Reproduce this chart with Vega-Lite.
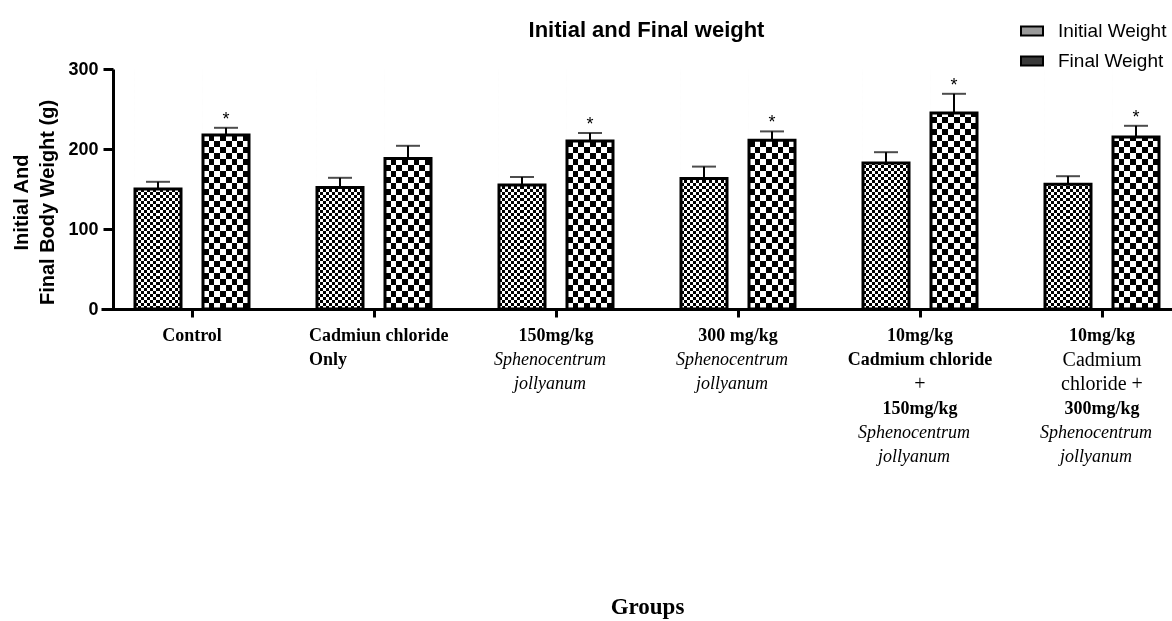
{
  "$schema": "https://vega.github.io/schema/vega-lite/v6.json",
  "width": 1059,
  "height": 240,
  "autosize": {"type": "none"},
  "padding": {"left": 113, "top": 69, "right": 0, "bottom": 312},
  "background": "white",
  "config": {"view": {"stroke": null}},
  "title": {
    "text": "Initial and Final weight",
    "font": "Liberation Sans",
    "fontSize": 22,
    "fontWeight": "bold",
    "color": "black",
    "anchor": "middle",
    "frame": "group",
    "baseline": "alphabetic",
    "dx": 4,
    "dy": 40,
    "offset": 0
  },
  "datasets": {
    "weights": [
      {"group": "Control", "series": "Initial Weight", "weight": 150, "upper": 159, "sig": ""},
      {"group": "Control", "series": "Final Weight", "weight": 217.5, "upper": 226.5, "sig": "*"},
      {"group": "Cadmium chloride only", "series": "Initial Weight", "weight": 152, "upper": 164, "sig": ""},
      {"group": "Cadmium chloride only", "series": "Final Weight", "weight": 188, "upper": 204, "sig": ""},
      {"group": "150mg/kg S. jollyanum", "series": "Initial Weight", "weight": 155, "upper": 165, "sig": ""},
      {"group": "150mg/kg S. jollyanum", "series": "Final Weight", "weight": 210, "upper": 220, "sig": "*"},
      {"group": "300mg/kg S. jollyanum", "series": "Initial Weight", "weight": 163, "upper": 178, "sig": ""},
      {"group": "300mg/kg S. jollyanum", "series": "Final Weight", "weight": 211, "upper": 222, "sig": "*"},
      {"group": "Cadmium chloride + 150mg/kg S. jollyanum", "series": "Initial Weight", "weight": 182.5, "upper": 196, "sig": ""},
      {"group": "Cadmium chloride + 150mg/kg S. jollyanum", "series": "Final Weight", "weight": 245, "upper": 269, "sig": "*"},
      {"group": "Cadmium chloride + 300mg/kg S. jollyanum", "series": "Initial Weight", "weight": 156, "upper": 166, "sig": ""},
      {"group": "Cadmium chloride + 300mg/kg S. jollyanum", "series": "Final Weight", "weight": 215, "upper": 229, "sig": "*"}
    ],
    "labels": [
      {"group": "Control", "line": 1, "text": "Control", "format": "bold"},
      {"group": "Cadmium chloride only", "line": 1, "text": "Cadmiun chloride", "format": "bold-left"},
      {"group": "Cadmium chloride only", "line": 2, "text": "Only", "format": "bold-left"},
      {"group": "150mg/kg S. jollyanum", "line": 1, "text": "150mg/kg", "format": "bold"},
      {"group": "150mg/kg S. jollyanum", "line": 2, "text": "Sphenocentrum", "format": "italic"},
      {"group": "150mg/kg S. jollyanum", "line": 3, "text": "jollyanum", "format": "italic"},
      {"group": "300mg/kg S. jollyanum", "line": 1, "text": "300 mg/kg", "format": "bold"},
      {"group": "300mg/kg S. jollyanum", "line": 2, "text": "Sphenocentrum", "format": "italic"},
      {"group": "300mg/kg S. jollyanum", "line": 3, "text": "jollyanum", "format": "italic"},
      {"group": "Cadmium chloride + 150mg/kg S. jollyanum", "line": 1, "text": "10mg/kg", "format": "bold"},
      {"group": "Cadmium chloride + 150mg/kg S. jollyanum", "line": 2, "text": "Cadmium chloride", "format": "bold"},
      {"group": "Cadmium chloride + 150mg/kg S. jollyanum", "line": 3, "text": "+", "format": "regular"},
      {"group": "Cadmium chloride + 150mg/kg S. jollyanum", "line": 4, "text": "150mg/kg", "format": "bold"},
      {"group": "Cadmium chloride + 150mg/kg S. jollyanum", "line": 5, "text": "Sphenocentrum", "format": "italic"},
      {"group": "Cadmium chloride + 150mg/kg S. jollyanum", "line": 6, "text": "jollyanum", "format": "italic"},
      {"group": "Cadmium chloride + 300mg/kg S. jollyanum", "line": 1, "text": "10mg/kg", "format": "bold"},
      {"group": "Cadmium chloride + 300mg/kg S. jollyanum", "line": 2, "text": "Cadmium", "format": "regular"},
      {"group": "Cadmium chloride + 300mg/kg S. jollyanum", "line": 3, "text": "chloride +", "format": "regular"},
      {"group": "Cadmium chloride + 300mg/kg S. jollyanum", "line": 4, "text": "300mg/kg", "format": "bold"},
      {"group": "Cadmium chloride + 300mg/kg S. jollyanum", "line": 5, "text": "Sphenocentrum", "format": "italic"},
      {"group": "Cadmium chloride + 300mg/kg S. jollyanum", "line": 6, "text": "jollyanum", "format": "italic"}
    ]
  },
  "encoding": {
    "x": {
      "field": "group",
      "type": "nominal",
      "title": "Groups",
      "scale": {
        "domain": ["Control", "Cadmium chloride only", "150mg/kg S. jollyanum", "300mg/kg S. jollyanum", "Cadmium chloride + 150mg/kg S. jollyanum", "Cadmium chloride + 300mg/kg S. jollyanum"],
        "range": [-12, 1080],
        "paddingInner": 0,
        "paddingOuter": 0
      },
      "axis": {
        "labels": false,
        "ticks": true,
        "tickSize": 8,
        "tickWidth": 3,
        "tickColor": "black",
        "domain": true,
        "domainWidth": 3,
        "domainColor": "black",
        "grid": false,
        "zindex": 1,
        "titleFont": "Liberation Serif",
        "titleFontSize": 23,
        "titleFontWeight": "bold",
        "titleColor": "black",
        "titleBaseline": "alphabetic",
        "titleY": 304
      }
    }
  },
  "layer": [
    {
      "data": {"name": "weights"},
      "encoding": {
        "xOffset": {
          "field": "series",
          "type": "nominal",
          "scale": {"domain": ["Initial Weight", "Final Weight"], "paddingInner": 0.3235, "paddingOuter": 0.5}
        }
      },
      "layer": [
        {
          "transform": [{"filter": "datum.series === 'Initial Weight'"}],
          "mark": {
            "type": "bar",
            "fill": {"gradient": "linear", "x1": 0, "y1": 0, "x2": 1, "y2": 0, "stops": [
              {"offset": 0, "color": "#000"},
              {"offset": 0.0667, "color": "#000"}, {"offset": 0.0667, "color": "#fff"},
              {"offset": 0.1333, "color": "#fff"}, {"offset": 0.1333, "color": "#000"},
              {"offset": 0.2, "color": "#000"}, {"offset": 0.2, "color": "#fff"},
              {"offset": 0.2667, "color": "#fff"}, {"offset": 0.2667, "color": "#000"},
              {"offset": 0.3333, "color": "#000"}, {"offset": 0.3333, "color": "#fff"},
              {"offset": 0.4, "color": "#fff"}, {"offset": 0.4, "color": "#000"},
              {"offset": 0.4667, "color": "#000"}, {"offset": 0.4667, "color": "#fff"},
              {"offset": 0.5333, "color": "#fff"}, {"offset": 0.5333, "color": "#000"},
              {"offset": 0.6, "color": "#000"}, {"offset": 0.6, "color": "#fff"},
              {"offset": 0.6667, "color": "#fff"}, {"offset": 0.6667, "color": "#000"},
              {"offset": 0.7333, "color": "#000"}, {"offset": 0.7333, "color": "#fff"},
              {"offset": 0.8, "color": "#fff"}, {"offset": 0.8, "color": "#000"},
              {"offset": 0.8667, "color": "#000"}, {"offset": 0.8667, "color": "#fff"},
              {"offset": 0.9333, "color": "#fff"}, {"offset": 0.9333, "color": "#000"},
              {"offset": 1, "color": "#000"}
            ]}
          },
          "encoding": {
            "y": {"datum": 0, "type": "quantitative"},
            "y2": {"datum": 300}
          }
        },
        {
          "transform": [{"filter": "datum.series === 'Final Weight'"}],
          "mark": {
            "type": "bar",
            "fill": {"gradient": "linear", "x1": 0, "y1": 0, "x2": 1, "y2": 0, "stops": [
              {"offset": 0, "color": "#000"},
              {"offset": 0.125, "color": "#000"}, {"offset": 0.125, "color": "#fff"},
              {"offset": 0.25, "color": "#fff"}, {"offset": 0.25, "color": "#000"},
              {"offset": 0.375, "color": "#000"}, {"offset": 0.375, "color": "#fff"},
              {"offset": 0.5, "color": "#fff"}, {"offset": 0.5, "color": "#000"},
              {"offset": 0.625, "color": "#000"}, {"offset": 0.625, "color": "#fff"},
              {"offset": 0.75, "color": "#fff"}, {"offset": 0.75, "color": "#000"},
              {"offset": 0.875, "color": "#000"}, {"offset": 0.875, "color": "#fff"},
              {"offset": 1, "color": "#fff"}
            ]}
          },
          "encoding": {
            "y": {"datum": 0, "type": "quantitative"},
            "y2": {"datum": 300}
          }
        },
        {
          "transform": [{"filter": "datum.series === 'Initial Weight'"}],
          "mark": {
            "type": "bar",
            "blend": "difference",
            "fill": {"gradient": "linear", "x1": 0, "y1": 0, "x2": 0, "y2": 1, "stops": [
              {"offset": 0, "color": "#000"},
              {"offset": 0.0125, "color": "#000"}, {"offset": 0.0125, "color": "#fff"},
              {"offset": 0.025, "color": "#fff"}, {"offset": 0.025, "color": "#000"},
              {"offset": 0.0375, "color": "#000"}, {"offset": 0.0375, "color": "#fff"},
              {"offset": 0.05, "color": "#fff"}, {"offset": 0.05, "color": "#000"},
              {"offset": 0.0625, "color": "#000"}, {"offset": 0.0625, "color": "#fff"},
              {"offset": 0.075, "color": "#fff"}, {"offset": 0.075, "color": "#000"},
              {"offset": 0.0875, "color": "#000"}, {"offset": 0.0875, "color": "#fff"},
              {"offset": 0.1, "color": "#fff"}, {"offset": 0.1, "color": "#000"},
              {"offset": 0.1125, "color": "#000"}, {"offset": 0.1125, "color": "#fff"},
              {"offset": 0.125, "color": "#fff"}, {"offset": 0.125, "color": "#000"},
              {"offset": 0.1375, "color": "#000"}, {"offset": 0.1375, "color": "#fff"},
              {"offset": 0.15, "color": "#fff"}, {"offset": 0.15, "color": "#000"},
              {"offset": 0.1625, "color": "#000"}, {"offset": 0.1625, "color": "#fff"},
              {"offset": 0.175, "color": "#fff"}, {"offset": 0.175, "color": "#000"},
              {"offset": 0.1875, "color": "#000"}, {"offset": 0.1875, "color": "#fff"},
              {"offset": 0.2, "color": "#fff"}, {"offset": 0.2, "color": "#000"},
              {"offset": 0.2125, "color": "#000"}, {"offset": 0.2125, "color": "#fff"},
              {"offset": 0.225, "color": "#fff"}, {"offset": 0.225, "color": "#000"},
              {"offset": 0.2375, "color": "#000"}, {"offset": 0.2375, "color": "#fff"},
              {"offset": 0.25, "color": "#fff"}, {"offset": 0.25, "color": "#000"},
              {"offset": 0.2625, "color": "#000"}, {"offset": 0.2625, "color": "#fff"},
              {"offset": 0.275, "color": "#fff"}, {"offset": 0.275, "color": "#000"},
              {"offset": 0.2875, "color": "#000"}, {"offset": 0.2875, "color": "#fff"},
              {"offset": 0.3, "color": "#fff"}, {"offset": 0.3, "color": "#000"},
              {"offset": 0.3125, "color": "#000"}, {"offset": 0.3125, "color": "#fff"},
              {"offset": 0.325, "color": "#fff"}, {"offset": 0.325, "color": "#000"},
              {"offset": 0.3375, "color": "#000"}, {"offset": 0.3375, "color": "#fff"},
              {"offset": 0.35, "color": "#fff"}, {"offset": 0.35, "color": "#000"},
              {"offset": 0.3625, "color": "#000"}, {"offset": 0.3625, "color": "#fff"},
              {"offset": 0.375, "color": "#fff"}, {"offset": 0.375, "color": "#000"},
              {"offset": 0.3875, "color": "#000"}, {"offset": 0.3875, "color": "#fff"},
              {"offset": 0.4, "color": "#fff"}, {"offset": 0.4, "color": "#000"},
              {"offset": 0.4125, "color": "#000"}, {"offset": 0.4125, "color": "#fff"},
              {"offset": 0.425, "color": "#fff"}, {"offset": 0.425, "color": "#000"},
              {"offset": 0.4375, "color": "#000"}, {"offset": 0.4375, "color": "#fff"},
              {"offset": 0.45, "color": "#fff"}, {"offset": 0.45, "color": "#000"},
              {"offset": 0.4625, "color": "#000"}, {"offset": 0.4625, "color": "#fff"},
              {"offset": 0.475, "color": "#fff"}, {"offset": 0.475, "color": "#000"},
              {"offset": 0.4875, "color": "#000"}, {"offset": 0.4875, "color": "#fff"},
              {"offset": 0.5, "color": "#fff"}, {"offset": 0.5, "color": "#000"},
              {"offset": 0.5125, "color": "#000"}, {"offset": 0.5125, "color": "#fff"},
              {"offset": 0.525, "color": "#fff"}, {"offset": 0.525, "color": "#000"},
              {"offset": 0.5375, "color": "#000"}, {"offset": 0.5375, "color": "#fff"},
              {"offset": 0.55, "color": "#fff"}, {"offset": 0.55, "color": "#000"},
              {"offset": 0.5625, "color": "#000"}, {"offset": 0.5625, "color": "#fff"},
              {"offset": 0.575, "color": "#fff"}, {"offset": 0.575, "color": "#000"},
              {"offset": 0.5875, "color": "#000"}, {"offset": 0.5875, "color": "#fff"},
              {"offset": 0.6, "color": "#fff"}, {"offset": 0.6, "color": "#000"},
              {"offset": 0.6125, "color": "#000"}, {"offset": 0.6125, "color": "#fff"},
              {"offset": 0.625, "color": "#fff"}, {"offset": 0.625, "color": "#000"},
              {"offset": 0.6375, "color": "#000"}, {"offset": 0.6375, "color": "#fff"},
              {"offset": 0.65, "color": "#fff"}, {"offset": 0.65, "color": "#000"},
              {"offset": 0.6625, "color": "#000"}, {"offset": 0.6625, "color": "#fff"},
              {"offset": 0.675, "color": "#fff"}, {"offset": 0.675, "color": "#000"},
              {"offset": 0.6875, "color": "#000"}, {"offset": 0.6875, "color": "#fff"},
              {"offset": 0.7, "color": "#fff"}, {"offset": 0.7, "color": "#000"},
              {"offset": 0.7125, "color": "#000"}, {"offset": 0.7125, "color": "#fff"},
              {"offset": 0.725, "color": "#fff"}, {"offset": 0.725, "color": "#000"},
              {"offset": 0.7375, "color": "#000"}, {"offset": 0.7375, "color": "#fff"},
              {"offset": 0.75, "color": "#fff"}, {"offset": 0.75, "color": "#000"},
              {"offset": 0.7625, "color": "#000"}, {"offset": 0.7625, "color": "#fff"},
              {"offset": 0.775, "color": "#fff"}, {"offset": 0.775, "color": "#000"},
              {"offset": 0.7875, "color": "#000"}, {"offset": 0.7875, "color": "#fff"},
              {"offset": 0.8, "color": "#fff"}, {"offset": 0.8, "color": "#000"},
              {"offset": 0.8125, "color": "#000"}, {"offset": 0.8125, "color": "#fff"},
              {"offset": 0.825, "color": "#fff"}, {"offset": 0.825, "color": "#000"},
              {"offset": 0.8375, "color": "#000"}, {"offset": 0.8375, "color": "#fff"},
              {"offset": 0.85, "color": "#fff"}, {"offset": 0.85, "color": "#000"},
              {"offset": 0.8625, "color": "#000"}, {"offset": 0.8625, "color": "#fff"},
              {"offset": 0.875, "color": "#fff"}, {"offset": 0.875, "color": "#000"},
              {"offset": 0.8875, "color": "#000"}, {"offset": 0.8875, "color": "#fff"},
              {"offset": 0.9, "color": "#fff"}, {"offset": 0.9, "color": "#000"},
              {"offset": 0.9125, "color": "#000"}, {"offset": 0.9125, "color": "#fff"},
              {"offset": 0.925, "color": "#fff"}, {"offset": 0.925, "color": "#000"},
              {"offset": 0.9375, "color": "#000"}, {"offset": 0.9375, "color": "#fff"},
              {"offset": 0.95, "color": "#fff"}, {"offset": 0.95, "color": "#000"},
              {"offset": 0.9625, "color": "#000"}, {"offset": 0.9625, "color": "#fff"},
              {"offset": 0.975, "color": "#fff"}, {"offset": 0.975, "color": "#000"},
              {"offset": 0.9875, "color": "#000"}, {"offset": 0.9875, "color": "#fff"},
              {"offset": 1, "color": "#fff"}
            ]}
          },
          "encoding": {
            "y": {"datum": 0, "type": "quantitative"},
            "y2": {"datum": 300}
          }
        },
        {
          "transform": [{"filter": "datum.series === 'Final Weight'"}],
          "mark": {
            "type": "bar",
            "blend": "difference",
            "fill": {"gradient": "linear", "x1": 0, "y1": 0, "x2": 0, "y2": 1, "stops": [
              {"offset": 0, "color": "#000"},
              {"offset": 0.025, "color": "#000"}, {"offset": 0.025, "color": "#fff"},
              {"offset": 0.05, "color": "#fff"}, {"offset": 0.05, "color": "#000"},
              {"offset": 0.075, "color": "#000"}, {"offset": 0.075, "color": "#fff"},
              {"offset": 0.1, "color": "#fff"}, {"offset": 0.1, "color": "#000"},
              {"offset": 0.125, "color": "#000"}, {"offset": 0.125, "color": "#fff"},
              {"offset": 0.15, "color": "#fff"}, {"offset": 0.15, "color": "#000"},
              {"offset": 0.175, "color": "#000"}, {"offset": 0.175, "color": "#fff"},
              {"offset": 0.2, "color": "#fff"}, {"offset": 0.2, "color": "#000"},
              {"offset": 0.225, "color": "#000"}, {"offset": 0.225, "color": "#fff"},
              {"offset": 0.25, "color": "#fff"}, {"offset": 0.25, "color": "#000"},
              {"offset": 0.275, "color": "#000"}, {"offset": 0.275, "color": "#fff"},
              {"offset": 0.3, "color": "#fff"}, {"offset": 0.3, "color": "#000"},
              {"offset": 0.325, "color": "#000"}, {"offset": 0.325, "color": "#fff"},
              {"offset": 0.35, "color": "#fff"}, {"offset": 0.35, "color": "#000"},
              {"offset": 0.375, "color": "#000"}, {"offset": 0.375, "color": "#fff"},
              {"offset": 0.4, "color": "#fff"}, {"offset": 0.4, "color": "#000"},
              {"offset": 0.425, "color": "#000"}, {"offset": 0.425, "color": "#fff"},
              {"offset": 0.45, "color": "#fff"}, {"offset": 0.45, "color": "#000"},
              {"offset": 0.475, "color": "#000"}, {"offset": 0.475, "color": "#fff"},
              {"offset": 0.5, "color": "#fff"}, {"offset": 0.5, "color": "#000"},
              {"offset": 0.525, "color": "#000"}, {"offset": 0.525, "color": "#fff"},
              {"offset": 0.55, "color": "#fff"}, {"offset": 0.55, "color": "#000"},
              {"offset": 0.575, "color": "#000"}, {"offset": 0.575, "color": "#fff"},
              {"offset": 0.6, "color": "#fff"}, {"offset": 0.6, "color": "#000"},
              {"offset": 0.625, "color": "#000"}, {"offset": 0.625, "color": "#fff"},
              {"offset": 0.65, "color": "#fff"}, {"offset": 0.65, "color": "#000"},
              {"offset": 0.675, "color": "#000"}, {"offset": 0.675, "color": "#fff"},
              {"offset": 0.7, "color": "#fff"}, {"offset": 0.7, "color": "#000"},
              {"offset": 0.725, "color": "#000"}, {"offset": 0.725, "color": "#fff"},
              {"offset": 0.75, "color": "#fff"}, {"offset": 0.75, "color": "#000"},
              {"offset": 0.775, "color": "#000"}, {"offset": 0.775, "color": "#fff"},
              {"offset": 0.8, "color": "#fff"}, {"offset": 0.8, "color": "#000"},
              {"offset": 0.825, "color": "#000"}, {"offset": 0.825, "color": "#fff"},
              {"offset": 0.85, "color": "#fff"}, {"offset": 0.85, "color": "#000"},
              {"offset": 0.875, "color": "#000"}, {"offset": 0.875, "color": "#fff"},
              {"offset": 0.9, "color": "#fff"}, {"offset": 0.9, "color": "#000"},
              {"offset": 0.925, "color": "#000"}, {"offset": 0.925, "color": "#fff"},
              {"offset": 0.95, "color": "#fff"}, {"offset": 0.95, "color": "#000"},
              {"offset": 0.975, "color": "#000"}, {"offset": 0.975, "color": "#fff"},
              {"offset": 1, "color": "#fff"}
            ]}
          },
          "encoding": {
            "y": {"datum": 0, "type": "quantitative"},
            "y2": {"datum": 300}
          }
        },
        {
          "mark": {"type": "bar", "fill": "white"},
          "encoding": {
            "y": {"field": "weight", "type": "quantitative"},
            "y2": {"datum": 300}
          }
        },
        {
          "mark": {"type": "bar"},
          "encoding": {
            "y": {"datum": 0, "type": "quantitative"},
            "y2": {"datum": 0},
            "fill": {
              "field": "series",
              "type": "nominal",
              "scale": {"domain": ["Initial Weight", "Final Weight"], "range": ["#9a9a9a", "#3a3a3a"]},
              "legend": {
                "orient": "none",
                "legendX": 907,
                "legendY": -50,
                "title": null,
                "symbolType": "M-1,-0.42H1V0.42H-1Z",
                "symbolSize": 484,
                "symbolStrokeColor": "black",
                "symbolStrokeWidth": 2,
                "symbolOpacity": 1,
                "labelFont": "Liberation Sans",
                "labelFontSize": 19,
                "labelColor": "black",
                "labelOffset": 14,
                "rowPadding": 8
              }
            }
          }
        },
        {
          "mark": {"type": "bar", "fill": "transparent", "stroke": "black", "strokeWidth": 3},
          "encoding": {
            "y": {
              "field": "weight",
              "type": "quantitative",
              "scale": {"domain": [0, 300], "nice": false, "zero": true},
              "axis": {
                "values": [0, 100, 200, 300],
                "grid": false,
                "tickSize": 10,
                "tickWidth": 3,
                "tickColor": "black",
                "domainWidth": 3,
                "domainColor": "black",
                "zindex": 1,
                "labelFont": "Liberation Sans",
                "labelFontSize": 18,
                "labelFontWeight": "bold",
                "labelColor": "black",
                "labelPadding": 5,
                "title": ["Initial And", "Final Body Weight (g)"],
                "titleFont": "Liberation Sans",
                "titleFontSize": 20,
                "titleFontWeight": "bold",
                "titleColor": "black",
                "titleLineHeight": 26,
                "titlePadding": 10,
                "titleY": 133
              }
            }
          }
        },
        {
          "mark": {"type": "rule", "color": "black", "strokeWidth": 2},
          "encoding": {
            "y": {"field": "weight", "type": "quantitative"},
            "y2": {"field": "upper"}
          }
        },
        {
          "mark": {"type": "tick", "color": "black", "thickness": 2, "orient": "horizontal"},
          "encoding": {
            "y": {"field": "upper", "type": "quantitative"},
            "size": {"value": 24}
          }
        },
        {
          "mark": {"type": "text", "font": "Liberation Sans", "fontSize": 18, "color": "black", "baseline": "alphabetic", "dy": -3},
          "encoding": {
            "y": {"field": "upper", "type": "quantitative"},
            "text": {"field": "sig"}
          }
        }
      ]
    },
    {
      "data": {"name": "labels"},
      "encoding": {
        "y": {
          "field": "line",
          "type": "ordinal",
          "axis": null,
          "scale": {"type": "point", "domain": [1, 2, 3, 4, 5, 6], "range": [267, 388], "padding": 0}
        },
        "text": {"field": "text"}
      },
      "layer": [
        {
          "transform": [{"filter": "datum.format === 'bold'"}],
          "mark": {"type": "text", "font": "Liberation Serif", "fontSize": 18, "fontWeight": "bold", "color": "black", "align": "center", "baseline": "middle"}
        },
        {
          "transform": [{"filter": "datum.format === 'bold-left'"}],
          "mark": {"type": "text", "font": "Liberation Serif", "fontSize": 18, "fontWeight": "bold", "color": "black", "align": "left", "baseline": "middle", "dx": -65}
        },
        {
          "transform": [{"filter": "datum.format === 'italic'"}],
          "mark": {"type": "text", "font": "Liberation Serif", "fontSize": 18, "fontStyle": "italic", "color": "black", "align": "center", "baseline": "middle", "dx": -6}
        },
        {
          "transform": [{"filter": "datum.format === 'regular'"}],
          "mark": {"type": "text", "font": "Liberation Serif", "fontSize": 20, "color": "black", "align": "center", "baseline": "middle"}
        }
      ]
    }
  ],
  "resolve": {"scale": {"y": "independent"}}
}
